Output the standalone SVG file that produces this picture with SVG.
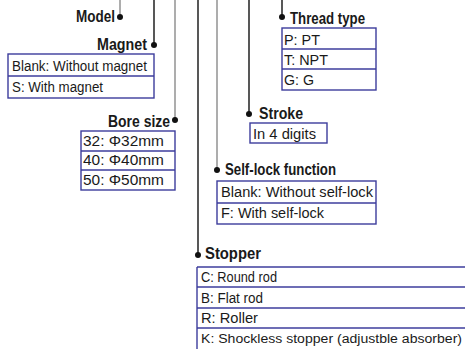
<svg xmlns="http://www.w3.org/2000/svg" width="465" height="349" viewBox="0 0 465 349">
<style>
.bg{fill:#ffffff}
.ln{stroke:#111;stroke-width:1.4;fill:none}
.lg{stroke:#8a8a8a;stroke-width:1.4;fill:none}
.dot{fill:#111}
.box{fill:none;stroke:#3c3c9c;stroke-width:1.4}
.h{font-family:"Liberation Sans",Arial,sans-serif;font-weight:bold;font-size:16px;fill:#1a1a1a}
.t{font-family:"Liberation Sans",Arial,sans-serif;font-size:15.5px;fill:#1a1a1a}
.tk{font-size:13.7px}
</style>
<rect class="bg" x="0" y="0" width="465" height="349"/>
<g id="connectors">
<line class="lg" x1="120" y1="0" x2="120" y2="17"/>
<line class="ln" x1="154" y1="0" x2="154" y2="45"/>
<line class="lg" x1="175" y1="0" x2="175" y2="120"/>
<line class="ln" x1="198" y1="0" x2="198" y2="255"/>
<line class="lg" x1="217" y1="0" x2="217" y2="170"/>
<line class="ln" x1="249" y1="0" x2="249" y2="114"/>
<line class="ln" x1="282" y1="0" x2="282" y2="17"/>
<circle class="dot" cx="120" cy="17" r="3"/>
<circle class="dot" cx="154" cy="45" r="3"/>
<circle class="dot" cx="175" cy="120" r="3"/>
<circle class="dot" cx="198" cy="255" r="3"/>
<circle class="dot" cx="217" cy="170" r="3"/>
<circle class="dot" cx="249" cy="114" r="3"/>
<circle class="dot" cx="282" cy="17" r="3"/>
</g>
<g id="model">
<text class="h" x="76" y="22" textLength="39" lengthAdjust="spacingAndGlyphs">Model</text>
</g>
<g id="magnet">
<text class="h" x="97" y="50" textLength="50" lengthAdjust="spacingAndGlyphs">Magnet</text>
<rect class="box" x="8" y="54" width="146" height="44"/>
<line class="box" x1="8" y1="76" x2="154" y2="76"/>
<text class="t" x="12" y="71" textLength="135" lengthAdjust="spacingAndGlyphs">Blank: Without magnet</text>
<text class="t" x="12" y="92" textLength="91" lengthAdjust="spacingAndGlyphs">S: With magnet</text>
</g>
<g id="thread-type">
<text class="h" x="290" y="24" textLength="75" lengthAdjust="spacingAndGlyphs">Thread type</text>
<rect class="box" x="282" y="28" width="94" height="62"/>
<line class="box" x1="282" y1="49" x2="376" y2="49"/>
<line class="box" x1="282" y1="69" x2="376" y2="69"/>
<text class="t" x="284" y="45" textLength="36" lengthAdjust="spacingAndGlyphs">P: PT</text>
<text class="t" x="284" y="65" textLength="44" lengthAdjust="spacingAndGlyphs">T: NPT</text>
<text class="t" x="284" y="85" textLength="30" lengthAdjust="spacingAndGlyphs">G: G</text>
</g>
<g id="stroke">
<text class="h" x="259" y="119" textLength="44" lengthAdjust="spacingAndGlyphs">Stroke</text>
<rect class="box" x="250" y="123" width="77" height="20"/>
<text class="t" x="253" y="139" textLength="63" lengthAdjust="spacingAndGlyphs">In 4 digits</text>
</g>
<g id="bore-size">
<text class="h" x="108" y="127" textLength="62" lengthAdjust="spacingAndGlyphs">Bore size</text>
<rect class="box" x="81" y="131" width="94" height="59"/>
<line class="box" x1="81" y1="151" x2="175" y2="151"/>
<line class="box" x1="81" y1="170" x2="175" y2="170"/>
<text class="t" x="83" y="146" textLength="81" lengthAdjust="spacingAndGlyphs">32:  Φ32mm</text>
<text class="t" x="83" y="165" textLength="81" lengthAdjust="spacingAndGlyphs">40:  Φ40mm</text>
<text class="t" x="83" y="185" textLength="81" lengthAdjust="spacingAndGlyphs">50:  Φ50mm</text>
</g>
<g id="self-lock">
<text class="h" x="225" y="175" textLength="111" lengthAdjust="spacingAndGlyphs">Self-lock function</text>
<rect class="box" x="217" y="181" width="159" height="43"/>
<line class="box" x1="217" y1="203" x2="376" y2="203"/>
<text class="t" x="221" y="197" textLength="152" lengthAdjust="spacingAndGlyphs">Blank: Without self-lock</text>
<text class="t" x="221" y="218" textLength="103" lengthAdjust="spacingAndGlyphs">F: With self-lock</text>
</g>
<g id="stopper">
<text class="h" x="205" y="259" textLength="56" lengthAdjust="spacingAndGlyphs">Stopper</text>
<line class="box" x1="197" y1="267" x2="197" y2="352"/>
<line class="box" x1="197" y1="267" x2="466" y2="267"/>
<line class="box" x1="197" y1="287" x2="466" y2="287"/>
<line class="box" x1="197" y1="308" x2="466" y2="308"/>
<line class="box" x1="197" y1="328" x2="466" y2="328"/>
<text class="t" x="201" y="282" textLength="76" lengthAdjust="spacingAndGlyphs">C: Round rod</text>
<text class="t" x="201" y="303" textLength="62" lengthAdjust="spacingAndGlyphs">B: Flat rod</text>
<text class="t" x="201" y="323" textLength="57" lengthAdjust="spacingAndGlyphs">R: Roller</text>
<text class="t tk" x="201" y="343" textLength="261" lengthAdjust="spacingAndGlyphs">K: Shockless stopper (adjustble absorber)</text>
</g>
</svg>
